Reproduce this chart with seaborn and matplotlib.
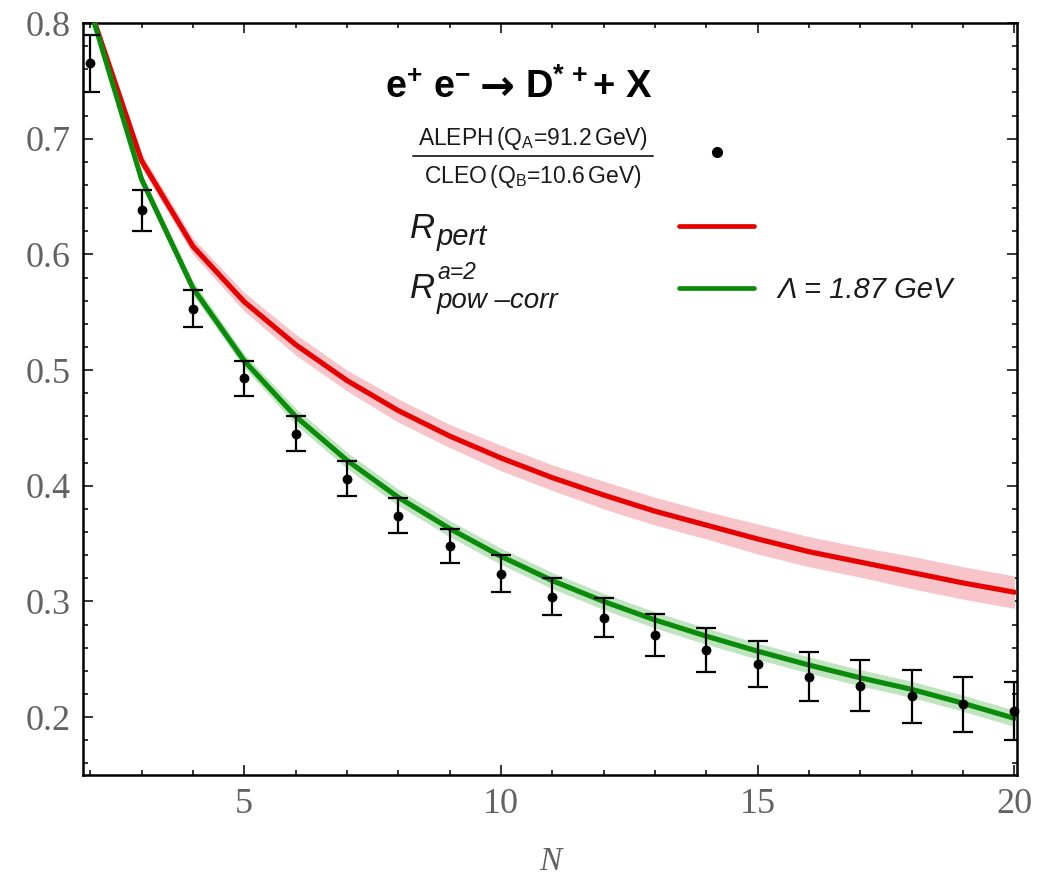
import numpy as np
import pandas as pd
import matplotlib
matplotlib.use("Agg")
import matplotlib.pyplot as plt
from matplotlib.ticker import MultipleLocator
import seaborn as sns

# ---- data ----
N_curve = [2, 3, 4, 5, 6, 7, 8, 9, 10, 11, 12, 13, 14, 15, 16, 17, 18, 19, 20]
R_pert = [0.812, 0.681, 0.607, 0.559, 0.522, 0.491, 0.465, 0.443, 0.424, 0.407,
          0.392, 0.378, 0.366, 0.354, 0.343, 0.334, 0.325, 0.316, 0.308]
R_pert_band = [0.003, 0.006, 0.007, 0.008, 0.009, 0.009, 0.010, 0.010, 0.011, 0.011,
               0.012, 0.012, 0.012, 0.013, 0.013, 0.013, 0.014, 0.014, 0.014]
R_pow = [0.812, 0.665, 0.571, 0.508, 0.460, 0.422, 0.390, 0.363, 0.339, 0.318,
         0.300, 0.284, 0.270, 0.257, 0.245, 0.234, 0.224, 0.212, 0.199]
R_pow_band = [0.003, 0.005, 0.006, 0.006, 0.007, 0.007, 0.007, 0.007, 0.007, 0.007,
              0.007, 0.007, 0.007, 0.007, 0.007, 0.007, 0.007, 0.007, 0.007]

N_data = [2, 3, 4, 5, 6, 7, 8, 9, 10, 11, 12, 13, 14, 15, 16, 17, 18, 19, 20]
ratio = [0.765, 0.638, 0.553, 0.493, 0.445, 0.406, 0.374, 0.348, 0.324, 0.304,
         0.286, 0.271, 0.258, 0.246, 0.235, 0.227, 0.218, 0.211, 0.205]
ratio_err = [0.025, 0.018, 0.016, 0.015, 0.015, 0.015, 0.015, 0.015, 0.016, 0.016,
             0.017, 0.018, 0.019, 0.020, 0.021, 0.022, 0.023, 0.024, 0.025]

x_major = [5, 10, 15, 20]
y_major = [0.2, 0.3, 0.4, 0.5, 0.6, 0.7, 0.8]

# ---- style ----
sns.set_style("ticks")
plt.rcParams["font.family"] = ["Liberation Serif", "DejaVu Serif"]
plt.rcParams["mathtext.fontset"] = "custom"
plt.rcParams["mathtext.rm"] = "Liberation Sans"
plt.rcParams["mathtext.it"] = "Liberation Sans:italic"
plt.rcParams["mathtext.bf"] = "Liberation Sans:bold"

RED = "#e60000"
RED_BAND = "#f7c4c9"
GREEN = "#0a8c0a"
GREEN_BAND = "#bfe4bf"
GREY = "#626262"
TXT = "#1a1a1a"

curves = pd.DataFrame({
    "N": N_curve * 2,
    "R": R_pert + R_pow,
    "band": R_pert_band + R_pow_band,
    "curve": ["pert"] * len(N_curve) + ["pow"] * len(N_curve),
})
pts = pd.DataFrame({"N": N_data, "ratio": ratio, "err": ratio_err})

fig = plt.figure(figsize=(10.56, 8.8), dpi=100)
ax = fig.add_axes([83 / 1056, 1 - 775 / 880, (1017 - 83) / 1056, (775 - 23) / 880])

# bands
for name, col in [("pert", RED_BAND), ("pow", GREEN_BAND)]:
    d = curves[curves["curve"] == name]
    ax.fill_between(d["N"], d["R"] - d["band"], d["R"] + d["band"],
                    color=col, lw=0, zorder=1)

# curves
sns.lineplot(data=curves, x="N", y="R", hue="curve",
             palette={"pert": RED, "pow": GREEN}, linewidth=3.7,
             legend=False, ax=ax, zorder=3)

# data points
ax.errorbar(pts["N"], pts["ratio"], yerr=pts["err"], fmt="none",
            ecolor="black", elinewidth=1.6, capsize=7.5, capthick=1.6, zorder=4)
sns.scatterplot(data=pts, x="N", y="ratio", color="black", s=50,
                edgecolor="black", linewidth=0, ax=ax, zorder=5, clip_on=False)

ax.set_xlim(1.86, 20.05)
ax.set_ylim(0.15, 0.8)

ax.set_xticks(x_major)
ax.set_yticks(y_major)
ax.xaxis.set_minor_locator(MultipleLocator(1))
ax.yaxis.set_minor_locator(MultipleLocator(0.02))
ax.tick_params(which="both", direction="in", top=True, right=True,
               color="black", width=1.1)
ax.tick_params(which="major", length=7, labelsize=26, labelcolor=GREY, pad=9)
ax.tick_params(which="minor", length=3.5)
ax.set_yticklabels([f"{v:.1f}" for v in y_major])
ax.set_xticklabels([str(v) for v in x_major])
for s in ax.spines.values():
    s.set_linewidth(1.8)
    s.set_color("black")
    s.set_visible(True)

ax.set_ylabel("")
ax.set_xlabel("N", fontsize=24, style="italic", color=GREY, labelpad=19)

# ---- legend / annotations ----
T = ax.transAxes
SANS = "Liberation Sans"
# title: e+ e- -> D*+ + X
ax.text(0.323, 0.900, r"e$^{\mathbf{+}}$ e$^{\mathbf{-}}$", family=SANS,
        fontweight="bold", transform=T, ha="left", va="baseline", fontsize=27,
        color="black")
ax.text(0.443, 0.897, "→", family="DejaVu Sans", fontweight="bold",
        transform=T, ha="center", va="baseline", fontsize=30, color="black")
ax.text(0.473, 0.900, r"D$^{\mathbf{*\,+}}$+ X", family=SANS,
        fontweight="bold", transform=T, ha="left", va="baseline", fontsize=27.5,
        color="black")

# data legend entry (fraction)
ax.text(0.482, 0.846, r"ALEPH$\,$(Q$_{\mathrm{A}}$=91.2$\,$GeV)",
        family=SANS, transform=T, ha="center", va="center",
        fontsize=16.5, color=TXT)
ax.text(0.482, 0.796, r"CLEO$\,$(Q$_{\mathrm{B}}$=10.6$\,$GeV)",
        family=SANS, transform=T, ha="center", va="center",
        fontsize=16.5, color=TXT)
ax.plot([0.353, 0.610], [0.823, 0.823], transform=T, color="#333333", lw=1.4,
        clip_on=False)
ax.plot([0.679], [0.828], "o", transform=T, color="black", ms=7, clip_on=False)

# curve legend entries
ax.text(0.350, 0.714, "R", family=SANS, style="italic", transform=T,
        ha="left", va="baseline", fontsize=25, color=TXT)
ax.text(0.379, 0.705, "pert", family=SANS, style="italic", transform=T,
        ha="left", va="baseline", fontsize=21, color=TXT)
ax.text(0.350, 0.634, "R", family=SANS, style="italic", transform=T,
        ha="left", va="baseline", fontsize=25, color=TXT)
ax.text(0.379, 0.660, "a=2", family=SANS, style="italic", transform=T,
        ha="left", va="baseline", fontsize=16.5, color=TXT)
ax.text(0.379, 0.621, "pow –corr", family=SANS, style="italic", transform=T,
        ha="left", va="baseline", fontsize=20, color=TXT)
ax.plot([0.638, 0.718], [0.730, 0.730], transform=T, color=RED, lw=3.4,
        clip_on=False)
ax.plot([0.638, 0.718], [0.648, 0.648], transform=T, color=GREEN, lw=3.4,
        clip_on=False)
ax.text(0.743, 0.645, "Λ = 1.87 GeV", family=SANS, style="italic",
        transform=T, ha="left", va="center", fontsize=21, color=TXT)

fig.savefig("out.png", dpi=100)
